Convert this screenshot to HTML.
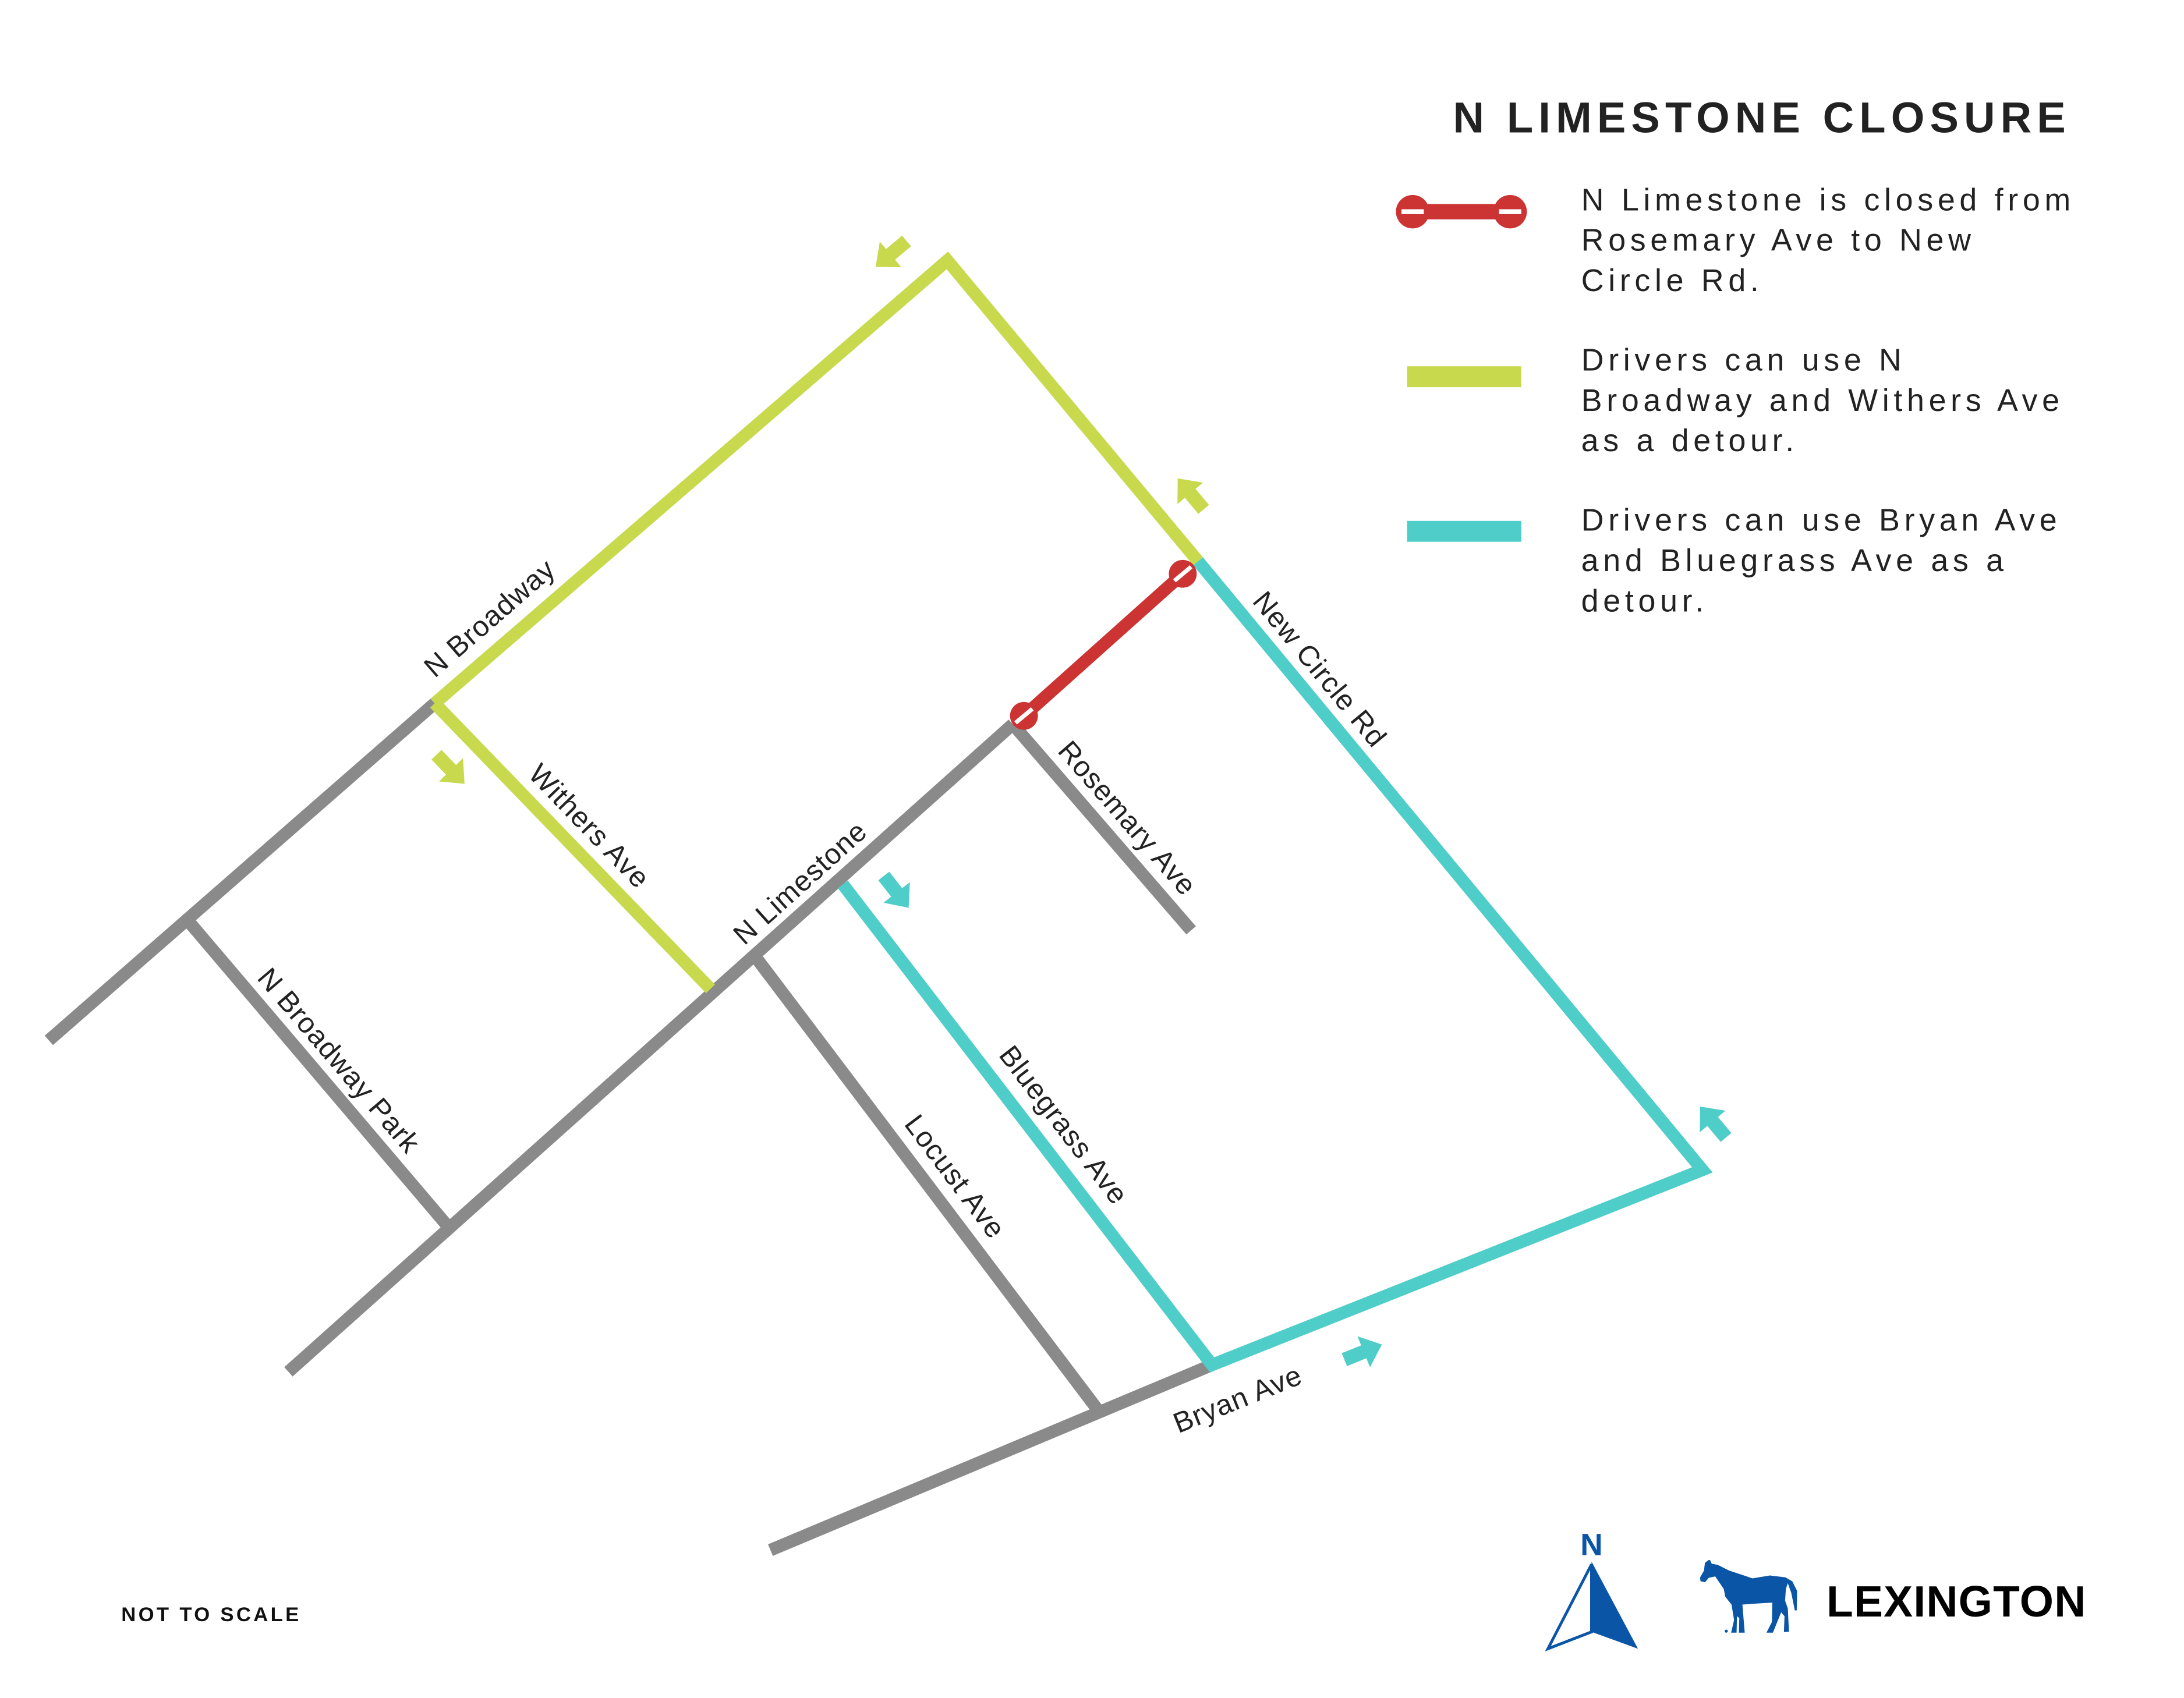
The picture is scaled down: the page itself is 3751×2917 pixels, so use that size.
<!DOCTYPE html>
<html><head><meta charset="utf-8"><style>
html,body{margin:0;padding:0;background:#fff;}
svg{display:block;}
text{font-family:"Liberation Sans",sans-serif;}
</style></head><body>
<svg width="3751" height="2917" viewBox="0 0 1552 1207" xmlns="http://www.w3.org/2000/svg">
<defs>
<polygon id="ar" points="-14,-5 1,-5 1,-12 15,0 1,12 1,5 -14,5"/>
</defs>
<g transform="scale(0.99)">
<g stroke-width="9" fill="none" stroke-linecap="butt">
<line x1="35" y1="747" x2="312" y2="505" stroke="#8a8a8a"/>
<line x1="134" y1="660" x2="321" y2="880" stroke="#8a8a8a"/>
<line x1="207" y1="985" x2="727" y2="520" stroke="#8a8a8a"/>
<line x1="727" y1="520" x2="855" y2="668" stroke="#8a8a8a"/>
<line x1="543" y1="688" x2="790" y2="1015" stroke="#8a8a8a"/>
<line x1="870" y1="980" x2="553" y2="1113" stroke="#8a8a8a"/>
<polyline points="312,505 680,187 860,403" stroke="#c8d94e" stroke-linejoin="miter"/>
<line x1="312" y1="505" x2="510" y2="710" stroke="#c8d94e"/>
<polyline points="860,403 1222,840 870,980 605,635" stroke="#4ecdc9" stroke-linejoin="miter"/>
<line x1="735" y1="514" x2="849" y2="412" stroke="#cc3333"/>
</g>
<g fill="#cc3333">
<circle cx="735" cy="514" r="10"/><circle cx="849" cy="412" r="10"/>
</g>
<g stroke="#fff" stroke-width="3">
<line x1="729" y1="519" x2="741" y2="509"/><line x1="843" y1="417" x2="855" y2="407"/>
</g>
<g fill="#c8d94e">
<use href="#ar" transform="translate(640,182) rotate(140)"/>
<use href="#ar" transform="translate(855,355) rotate(-130)"/>
<use href="#ar" transform="translate(323,552) rotate(46)"/>
</g>
<g fill="#4ecdc9">
<use href="#ar" transform="translate(643,640) rotate(52)"/>
<use href="#ar" transform="translate(1230,806) rotate(-130)"/>
<use href="#ar" transform="translate(978,971) rotate(-22)"/>
</g>
<g font-size="20.5" fill="#222" text-anchor="middle" letter-spacing="0.5">
<text transform="translate(356,449) rotate(-41)">N Broadway</text>
<text transform="translate(418,598) rotate(46)">Withers Ave</text>
<text transform="translate(579,639) rotate(-42)">N Limestone</text>
<text transform="translate(804,592) rotate(49)">Rosemary Ave</text>
<text transform="translate(942,485) rotate(50.5)">New Circle Rd</text>
<text transform="translate(238,766) rotate(49.5)">N Broadway Park</text>
<text transform="translate(680,849) rotate(53)">Locust Ave</text>
<text transform="translate(758,812) rotate(52.5)">Bluegrass Ave</text>
<text transform="translate(891,1011) rotate(-22)">Bryan Ave</text>
</g>
<text x="1043" y="95" font-size="31" font-weight="bold" fill="#222" letter-spacing="3.8">N LIMESTONE CLOSURE</text>
<line x1="1014" y1="152" x2="1084" y2="152" stroke="#cc3333" stroke-width="11"/>
<circle cx="1014" cy="152" r="12" fill="#cc3333"/><circle cx="1084" cy="152" r="12" fill="#cc3333"/>
<line x1="1006" y1="152" x2="1022" y2="152" stroke="#fff" stroke-width="3.5"/>
<line x1="1076" y1="152" x2="1092" y2="152" stroke="#fff" stroke-width="3.5"/>
<rect x="1010" y="263" width="82" height="15" fill="#c8d94e"/>
<rect x="1010" y="374" width="82" height="15" fill="#4ecdc9"/>
<g font-size="22.5" fill="#222" letter-spacing="3.2">
<text x="1135" y="151">N Limestone is closed from</text>
<text x="1135" y="180">Rosemary Ave to New</text>
<text x="1135" y="209">Circle Rd.</text>
<text x="1135" y="266">Drivers can use N</text>
<text x="1135" y="295">Broadway and Withers Ave</text>
<text x="1135" y="324">as a detour.</text>
<text x="1135" y="381">Drivers can use Bryan Ave</text>
<text x="1135" y="410">and Bluegrass Ave as a</text>
<text x="1135" y="439">detour.</text>
</g>
<text x="87" y="1164" font-size="14.5" font-weight="bold" fill="#111" letter-spacing="1.8">NOT TO SCALE</text>
</g>
<text x="1131" y="1105.5" font-size="22" font-weight="bold" fill="#0a55a5" text-anchor="middle">N</text>
<polygon points="1131,1112 1100,1172 1131,1160" fill="none" stroke="#0a55a5" stroke-width="2"/>
<polygon points="1131,1110 1164,1172 1131,1160" fill="#0a55a5"/>
<g transform="scale(0.41375) translate(2650,2620) scale(0.33333)">
<path fill="#0a55a5" d="M855,180 L862,182 L870,200 L900,205 L960,235 L1020,255 L1080,275 L1170,260 L1250,270 L1285,290 L1310,340 L1308,440 L1298,440 L1280,350 L1262,300 L1252,330 L1248,390 L1262,430 L1268,550 L1242,552 L1245,470 L1228,450 L1185,555 L1152,555 L1180,500 L1182,400 L1100,405 L1028,410 L1040,555 L1010,555 L1012,480 L1000,470 L998,555 L970,555 L985,490 L972,410 L940,370 L932,330 L905,290 L888,265 L855,272 L835,295 L812,290 L810,270 L830,235 L835,195 Z"/>
<circle cx="945" cy="547" r="8" fill="#0a55a5"/>
</g>
<text x="1298" y="1149" font-size="31" font-weight="bold" fill="#000" letter-spacing="0.5">LEXINGTON</text>
</svg>
</body></html>
